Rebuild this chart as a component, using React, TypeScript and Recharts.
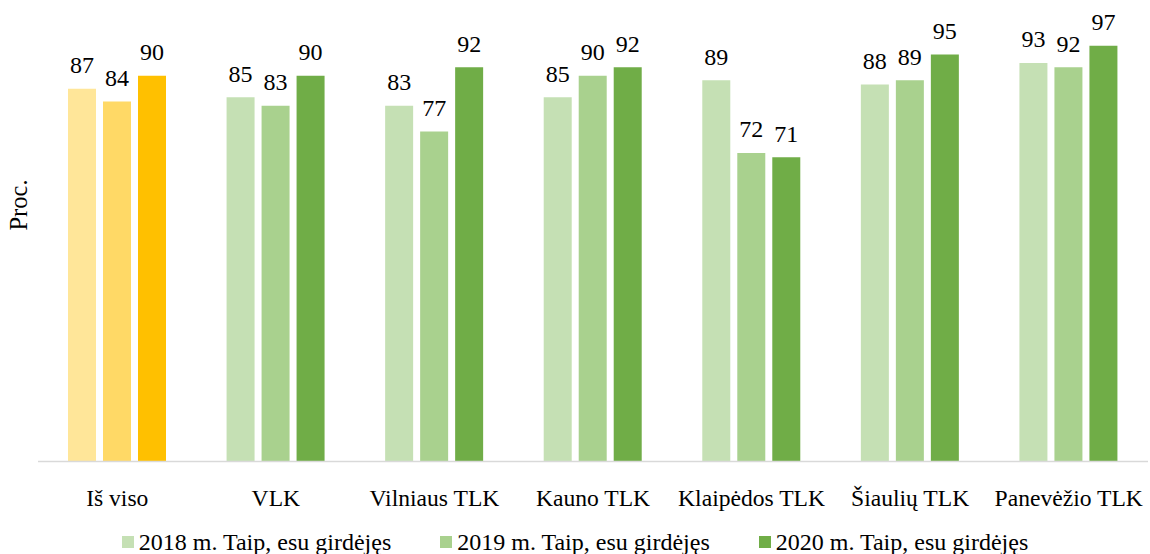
import React from 'react';
import { BarChart, Bar, XAxis, YAxis, Legend, LabelList, Cell } from 'recharts';

const categories = ['Iš viso', 'VLK', 'Vilniaus TLK', 'Kauno TLK', 'Klaipėdos TLK', 'Šiaulių TLK', 'Panevėžio TLK'];
const values2018 = [87, 85, 83, 85, 89, 88, 93];
const values2019 = [84, 83, 77, 90, 72, 89, 92];
const values2020 = [90, 90, 92, 92, 71, 95, 97];
const seriesNames = ['2018 m. Taip, esu girdėjęs', '2019 m. Taip, esu girdėjęs', '2020 m. Taip, esu girdėjęs'];

const greens = ['#C5E0B4', '#A9D18E', '#70AD47'];
const yellows = ['#FFE699', '#FFD966', '#FFC000'];
const FONT = 'Liberation Serif, Times New Roman, serif';

const data = categories.map((name, i) => ({
  name,
  y2018: values2018[i],
  y2019: values2019[i],
  y2020: values2020[i],
}));

const seriesKeys = ['y2018', 'y2019', 'y2020'];

const ValueLabel = (props: any) => {
  const { x, y, width, value } = props;
  return (
    <text x={x + width / 2} y={y - 15.5} textAnchor="middle" style={{ fontFamily: FONT }} fontSize={24} fill="#000">
      {value}
    </text>
  );
};

const CategoryTick = (props: any) => {
  const { x, y, payload } = props;
  return (
    <text x={x} y={y + 36} textAnchor="middle" style={{ fontFamily: FONT }} fontSize={23.6} fill="#000">
      {payload.value}
    </text>
  );
};

const LegendContent = () => (
  <div style={{ display: 'flex', justifyContent: 'center', alignItems: 'center', height: 28, gap: 49, fontFamily: FONT, fontSize: 24, color: '#000' }}>
    {seriesNames.map((n, i) => (
      <div key={n} style={{ display: 'flex', alignItems: 'center', whiteSpace: 'nowrap' }}>
        <span style={{ display: 'inline-block', width: 12, height: 12, background: greens[i], marginRight: 5 }} />
        <span>{n}</span>
      </div>
    ))}
  </div>
);

const App: React.FC = () => {
  return (
    <div style={{ position: 'absolute', left: 0, top: 0, width: 1150, height: 554, background: '#fff', fontFamily: FONT }}>
      <BarChart
        width={1150}
        height={554}
        data={data}
        margin={{ top: 33, right: 2, left: 0, bottom: 14.5 }}
        barSize={28}
        barGap={7}
        style={{ fontFamily: FONT }}
      >
        <XAxis
          dataKey="name"
          height={50}
          tickLine={false}
          axisLine={{ stroke: '#d9d9d9', strokeWidth: 1.5 }}
          tick={<CategoryTick />}
          interval={0}
        />
        <YAxis
          width={38}
          domain={[0, 100]}
          tick={false}
          tickLine={false}
          axisLine={false}
          label={({ viewBox }: any) => {
            const cy = viewBox.y + 172;
            return (
              <text
                x={27}
                y={cy}
                transform={`rotate(-90, 27, ${cy})`}
                textAnchor="middle"
                style={{ fontFamily: FONT }}
                fontSize={24.5}
                fill="#000"
              >
                Proc.
              </text>
            );
          }}
        />
        <Legend
          content={<LegendContent />}
          wrapperStyle={{ top: 528, bottom: 'auto', left: 0, width: 1150, height: 28 }}
        />
        {seriesKeys.map((k, si) => (
          <Bar key={k} dataKey={k} name={seriesNames[si]} fill={greens[si]} isAnimationActive={false}>
            {data.map((d, i) => (
              <Cell key={d.name} fill={i === 0 ? yellows[si] : greens[si]} />
            ))}
            <LabelList dataKey={k} content={<ValueLabel />} />
          </Bar>
        ))}
      </BarChart>
    </div>
  );
};

export default App;
